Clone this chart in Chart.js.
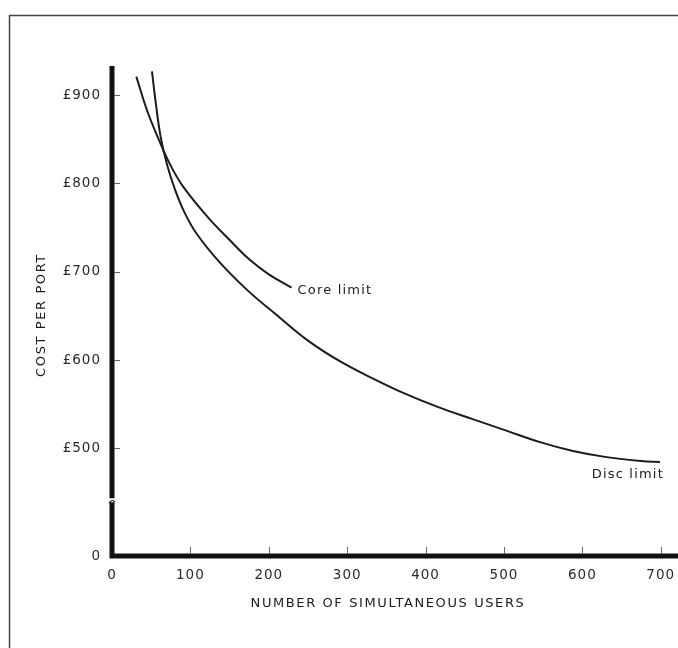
<!DOCTYPE html>
<html>
<head>
<meta charset="utf-8">
<script src="https://cdn.jsdelivr.net/npm/chart.js@4.4.0/dist/chart.umd.min.js"></script>
<style>
  html, body { margin: 0; padding: 0; background: #fff; }
  #wrap { width: 678px; height: 648px; position: relative; }
</style>
</head>
<body>
<div id="wrap"><canvas id="costChart"></canvas></div>
<script>
// curves (simultaneous users, £ per port)
const coreUsers = [31, 45, 60, 75, 91, 121, 151, 175, 200, 229];
const coreCost  = [921, 882, 849, 820, 796, 763, 735, 714, 697, 682];
const discUsers = [51, 56, 62, 70, 80, 92, 108, 138, 174, 210, 250, 290, 333, 376, 418, 460, 503, 546, 588, 631, 675, 699];
const discCost  = [927, 890, 853, 822, 794, 768, 743, 710, 678, 651, 622, 599, 579, 561, 546, 533, 520, 507, 497, 490, 485.5, 484.5];

const xTicks = [0, 100, 200, 300, 400, 500, 600, 700];
const yTicks = [500, 600, 700, 800, 900];

// the cost axis is broken: its foot stands for zero
const yFoot = 378;
const yTop = 933;
const yBreak = 440;
const xMax = 722;

const FONT = "'DejaVu Sans', sans-serif";
const INK = '#1c1c1c';

const toPoints = (xs, ys) => xs.map((v, i) => ({ x: v, y: ys[i] }));

const paperPlugin = {
  id: 'paper',
  beforeUpdate(chart) {
    chart.ctx.letterSpacing = '1px';
  },
  afterDatasetsDraw(chart) {
    const { ctx, scales: { x, y } } = chart;
    const x0 = x.getPixelForValue(0);
    const y0 = y.getPixelForValue(yFoot);
    const yt = y.getPixelForValue(yTop);
    ctx.save();

    // page frame of the scan
    ctx.strokeStyle = '#444';
    ctx.lineWidth = 1.5;
    ctx.beginPath();
    ctx.moveTo(9.5, chart.height);
    ctx.lineTo(9.5, 15.5);
    ctx.lineTo(chart.width, 15.5);
    ctx.stroke();

    // heavy axes
    ctx.strokeStyle = '#111';
    ctx.lineWidth = 5;
    ctx.beginPath();
    ctx.moveTo(x0, yt);
    ctx.lineTo(x0, y0 + 2.5);
    ctx.moveTo(x0 - 2.5, y0);
    ctx.lineTo(chart.width, y0);
    ctx.stroke();

    // break mark on the cost axis
    const yb = y.getPixelForValue(yBreak);
    ctx.fillStyle = '#fff';
    ctx.fillRect(x0 - 4, yb - 3, 8, 4);
    ctx.lineWidth = 1.2;
    ctx.beginPath();
    ctx.moveTo(x0 - 3, yb + 2);
    ctx.quadraticCurveTo(x0, yb - 3, x0 + 3, yb + 1);
    ctx.stroke();

    // small inner tick marks
    ctx.strokeStyle = '#666';
    ctx.lineWidth = 1;
    ctx.beginPath();
    yTicks.forEach(v => {
      const p = Math.round(y.getPixelForValue(v)) + 0.5;
      ctx.moveTo(x0 + 2, p);
      ctx.lineTo(x0 + 8, p);
    });
    xTicks.slice(1).forEach(v => {
      const p = Math.round(x.getPixelForValue(v)) + 0.5;
      ctx.moveTo(p, y0 - 2);
      ctx.lineTo(p, y0 - 9);
    });
    ctx.stroke();

    // curve labels at the ends of the lines
    ctx.fillStyle = INK;
    ctx.font = `13px ${FONT}`;
    ctx.letterSpacing = '1.2px';
    ctx.textBaseline = 'middle';
    const ce = chart.getDatasetMeta(0).data.at(-1);
    ctx.textAlign = 'left';
    ctx.fillText('Core limit', ce.x + 6, ce.y + 3);
    const de = chart.getDatasetMeta(1).data.at(-1);
    ctx.textAlign = 'right';
    ctx.fillText('Disc limit', de.x + 4, de.y + 13);

    // axis titles
    ctx.font = `13px ${FONT}`;
    ctx.letterSpacing = '1.6px';
    ctx.textAlign = 'center';
    ctx.fillText('NUMBER OF SIMULTANEOUS USERS', 388, 604);
    ctx.translate(42, 315);
    ctx.rotate(-Math.PI / 2);
    ctx.fillText('COST PER PORT', 0, 0);
    ctx.restore();
  }
};

new Chart(document.getElementById('costChart'), {
  type: 'scatter',
  data: {
    datasets: [
      {
        label: 'Core limit',
        data: toPoints(coreUsers, coreCost),
        showLine: true,
        borderColor: INK,
        borderWidth: 2,
        pointRadius: 0,
        tension: 0.4
      },
      {
        label: 'Disc limit',
        data: toPoints(discUsers, discCost),
        showLine: true,
        borderColor: INK,
        borderWidth: 2,
        pointRadius: 0,
        tension: 0.4
      }
    ]
  },
  options: {
    responsive: true,
    maintainAspectRatio: false,
    animation: false,
    layout: { padding: { left: 10, top: 66, right: 0, bottom: 0 } },
    plugins: { legend: { display: false }, tooltip: { enabled: false } },
    scales: {
      x: {
        type: 'linear',
        min: 0,
        max: xMax,
        grid: { display: false, drawTicks: false },
        border: { display: false },
        afterBuildTicks: s => { s.ticks = xTicks.map(v => ({ value: v })); },
        afterFit: s => {
          s.height = 92;
          s.paddingLeft = 0;
          s.paddingRight = 0;
        },
        ticks: {
          autoSkip: false,
          maxRotation: 0,
          padding: 11,
          color: '#2a2a2a',
          font: { family: FONT, size: 13.5 }
        }
      },
      y: {
        type: 'linear',
        min: yFoot,
        max: yTop,
        grid: { display: false, drawTicks: false },
        border: { display: false },
        afterBuildTicks: s => { s.ticks = [yFoot, ...yTicks].map(v => ({ value: v })); },
        afterFit: s => { s.width = 102; },
        ticks: {
          autoSkip: false,
          padding: 11,
          color: '#2a2a2a',
          font: { family: FONT, size: 13.5 },
          callback: v => (v === yFoot ? '0' : '£' + v)
        }
      }
    }
  },
  plugins: [paperPlugin]
});
</script>
</body>
</html>
